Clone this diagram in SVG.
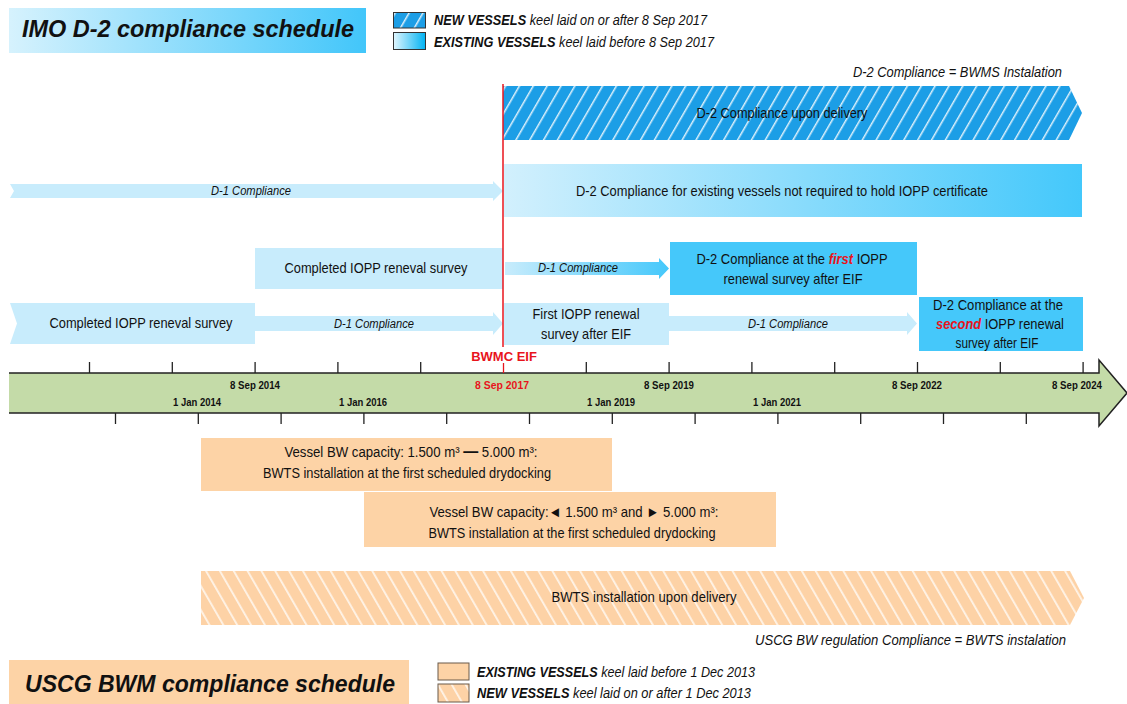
<svg xmlns="http://www.w3.org/2000/svg" width="1127" height="704" viewBox="0 0 1127 704">
<defs>
<linearGradient id="gTitle" x1="0" x2="1" y1="0" y2="0"><stop offset="0" stop-color="#d6f2fd"/><stop offset="1" stop-color="#42c6fa"/></linearGradient>
<linearGradient id="gBar" x1="0" x2="1" y1="0" y2="0"><stop offset="0" stop-color="#d2f0fd"/><stop offset="1" stop-color="#44c8fb"/></linearGradient>
<linearGradient id="gArrow" x1="0" x2="1" y1="0" y2="0"><stop offset="0" stop-color="#c8ecfc"/><stop offset="1" stop-color="#45c8fb"/></linearGradient>
<linearGradient id="gLeg" x1="0" x2="1" y1="0" y2="0"><stop offset="0" stop-color="#e0f6fe"/><stop offset="1" stop-color="#00b2f2"/></linearGradient>
<pattern id="hBlue" patternUnits="userSpaceOnUse" width="12" height="12" patternTransform="rotate(30)"><rect width="12" height="12" fill="#1c9ee6"/><rect x="0" y="0" width="1.5" height="12" fill="#ffffff" fill-opacity="0.85"/></pattern>
<pattern id="hOrange" patternUnits="userSpaceOnUse" width="12" height="12" patternTransform="rotate(-30)"><rect width="12" height="12" fill="#fdd2a6"/><rect x="0" y="0" width="1.8" height="12" fill="#ffffff" fill-opacity="0.75"/></pattern>
<style>
.t{font-family:"Liberation Sans Narrow","Arial Narrow","Liberation Sans",Arial,sans-serif;fill:#111;}
.s{font-family:"Liberation Sans",Arial,sans-serif;fill:#111;font-size:15px;}
.b14{font-size:15px;}
.i12{font-size:12.5px;font-style:italic;}
.i13{font-size:14px;font-style:italic;}
.tl{font-size:11px;font-weight:bold;}
.ttl{font-family:"Liberation Sans",Arial,sans-serif;font-weight:bold;font-style:italic;font-size:23.5px;fill:#111;}
.light{fill:#c8ecfc;}
.cyan{fill:#45c8fa;}
.peach{fill:#fdd3a6;}
.red{fill:#e8141c;font-weight:bold;font-style:italic;}
.tick{stroke:#222;stroke-width:1.3;}
</style>
</defs>

<g id="imo-title">
<rect x="9" y="8" width="357" height="45" fill="url(#gTitle)"/>
<text class="ttl" x="188" y="37" text-anchor="middle" textLength="332" lengthAdjust="spacingAndGlyphs">IMO D-2 compliance schedule</text>
</g>

<g id="imo-legend">
<rect x="393.5" y="12.5" width="32" height="15.5" fill="url(#hBlue)" stroke="#333" stroke-width="1"/>
<rect x="393.5" y="32.5" width="32" height="17" fill="url(#gLeg)" stroke="#333" stroke-width="1"/>
<text class="t i13" x="434" y="25" textLength="273" lengthAdjust="spacingAndGlyphs"><tspan font-weight="bold">NEW VESSELS</tspan> keel laid on or after 8 Sep 2017</text>
<text class="t i13" x="434" y="47" textLength="280" lengthAdjust="spacingAndGlyphs"><tspan font-weight="bold">EXISTING VESSELS</tspan> keel laid before 8 Sep 2017</text>
</g>

<g id="d2-note">
<text class="t i13" x="1062" y="77" text-anchor="end" textLength="209" lengthAdjust="spacingAndGlyphs">D-2 Compliance = BWMS Instalation</text>
</g>

<g id="new-vessels">
<polygon points="503,86 1069,86 1082,113 1069,140 503,140" fill="url(#hBlue)"/>
<text class="t b14" x="782" y="118" text-anchor="middle" textLength="171" lengthAdjust="spacingAndGlyphs">D-2 Compliance upon delivery</text>
</g>

<g id="existing-no-iopp">
<rect x="504" y="164" width="578" height="53" fill="url(#gBar)"/>
<text class="t b14" x="782" y="196" text-anchor="middle" textLength="412" lengthAdjust="spacingAndGlyphs">D-2 Compliance for  existing vessels not required to hold IOPP certificate</text>
</g>

<g id="row3-completed">
<rect class="light" x="255" y="248" width="248" height="41"/>
<text class="t b14" x="376" y="273" text-anchor="middle" textLength="183" lengthAdjust="spacingAndGlyphs">Completed IOPP reneval survey</text>
</g>

<g id="row3-first">
<rect class="cyan" x="670" y="242" width="247" height="53"/>
<text class="s" transform="translate(792,264) scale(0.862,1)" text-anchor="middle">D-2 Compliance at the <tspan class="red">first</tspan> IOPP</text>
<text class="t b14" x="793" y="284" text-anchor="middle" textLength="139" lengthAdjust="spacingAndGlyphs">renewal survey after EIF</text>
</g>

<g id="row4-completed">
<polygon class="light" points="10,303 255,303 255,344 10,344 17,323.5"/>
<text class="t b14" x="141" y="328" text-anchor="middle" textLength="183" lengthAdjust="spacingAndGlyphs">Completed IOPP reneval survey</text>
</g>

<g id="row4-first-survey">
<rect class="light" x="504" y="303" width="165" height="42"/>
<text class="t b14" x="586" y="319" text-anchor="middle" textLength="107" lengthAdjust="spacingAndGlyphs">First IOPP renewal</text>
<text class="t b14" x="586" y="339" text-anchor="middle" textLength="90" lengthAdjust="spacingAndGlyphs">survey after EIF</text>
</g>

<g id="row4-second">
<rect class="cyan" x="919" y="297" width="164" height="54"/>
<text class="t b14" x="998" y="310" text-anchor="middle" textLength="130" lengthAdjust="spacingAndGlyphs">D-2 Compliance at the</text>
<text class="s" transform="translate(1000,329) scale(0.86,1)" text-anchor="middle"><tspan class="red">second</tspan> IOPP renewal</text>
<text class="t b14" x="997" y="348" text-anchor="middle" textLength="83" lengthAdjust="spacingAndGlyphs">survey after EIF</text>
</g>

<g id="connectors">
<polygon class="light" points="10,184 493,184 493,181 503,191 493,201 493,198 10,198 14,191"/>
<text class="t i12" x="251" y="195" text-anchor="middle" textLength="80" lengthAdjust="spacingAndGlyphs">D-1 Compliance</text>
<polygon fill="url(#gArrow)" points="505,262 659,262 659,258 669,268.5 659,279 659,275 505,275"/>
<text class="t i12" x="578" y="272" text-anchor="middle" textLength="80" lengthAdjust="spacingAndGlyphs">D-1 Compliance</text>
<polygon class="light" points="255,316 493,316 493,312 503,323.5 493,335 493,331 255,331"/>
<text class="t i12" x="374" y="328" text-anchor="middle" textLength="80" lengthAdjust="spacingAndGlyphs">D-1 Compliance</text>
<polygon class="light" points="669,316 907,316 907,312 917,323.5 907,335 907,331 669,331"/>
<text class="t i12" x="788" y="328" text-anchor="middle" textLength="80" lengthAdjust="spacingAndGlyphs">D-1 Compliance</text>
</g>

<g id="bwmc-eif">
<line x1="503" y1="84" x2="503" y2="347" stroke="#e8141c" stroke-width="1.5"/>
<text x="504" y="361" text-anchor="middle" font-family="Liberation Sans,Arial,sans-serif" font-weight="bold" font-size="13" fill="#e8141c">BWMC EIF</text>
</g>

<g id="timeline">
<polygon points="9,373 1099,373 1099,360 1127,393 1099,426 1099,413 9,413" fill="#c4dba8"/>
<polyline points="9,373 1099,373 1099,360 1127,393 1099,426 1099,413 9,413" fill="none" stroke="#222" stroke-width="1.5"/>
<g class="tick">
<line x1="89.5" y1="362" x2="89.5" y2="373"/><line x1="172.3" y1="362" x2="172.3" y2="373"/><line x1="255.1" y1="362" x2="255.1" y2="373"/><line x1="337.9" y1="362" x2="337.9" y2="373"/><line x1="420.7" y1="362" x2="420.7" y2="373"/><line x1="586.3" y1="362" x2="586.3" y2="373"/><line x1="669.1" y1="362" x2="669.1" y2="373"/><line x1="751.9" y1="362" x2="751.9" y2="373"/><line x1="834.7" y1="362" x2="834.7" y2="373"/><line x1="917.5" y1="362" x2="917.5" y2="373"/><line x1="1000.3" y1="362" x2="1000.3" y2="373"/><line x1="1083.1" y1="362" x2="1083.1" y2="373"/>
<line x1="115.5" y1="413" x2="115.5" y2="424"/><line x1="198.3" y1="413" x2="198.3" y2="424"/><line x1="281.1" y1="413" x2="281.1" y2="424"/><line x1="363.9" y1="413" x2="363.9" y2="424"/><line x1="446.7" y1="413" x2="446.7" y2="424"/><line x1="529.5" y1="413" x2="529.5" y2="424"/><line x1="612.3" y1="413" x2="612.3" y2="424"/><line x1="695.1" y1="413" x2="695.1" y2="424"/><line x1="777.9" y1="413" x2="777.9" y2="424"/><line x1="860.7" y1="413" x2="860.7" y2="424"/><line x1="943.5" y1="413" x2="943.5" y2="424"/><line x1="1026.3" y1="413" x2="1026.3" y2="424"/>
</g>
<line x1="503.5" y1="363" x2="503.5" y2="373" stroke="#e8141c" stroke-width="1.3"/>
<text class="t tl" x="255" y="389" text-anchor="middle" textLength="50" lengthAdjust="spacingAndGlyphs">8 Sep 2014</text>
<text class="t tl" x="502" y="389" text-anchor="middle" textLength="54" lengthAdjust="spacingAndGlyphs" style="fill:#e8141c">8 Sep 2017</text>
<text class="t tl" x="669" y="389" text-anchor="middle" textLength="50" lengthAdjust="spacingAndGlyphs">8 Sep 2019</text>
<text class="t tl" x="917" y="389" text-anchor="middle" textLength="50" lengthAdjust="spacingAndGlyphs">8 Sep 2022</text>
<text class="t tl" x="1077" y="389" text-anchor="middle" textLength="50" lengthAdjust="spacingAndGlyphs">8 Sep 2024</text>
<text class="t tl" x="197" y="406" text-anchor="middle" textLength="48" lengthAdjust="spacingAndGlyphs">1 Jan 2014</text>
<text class="t tl" x="363" y="406" text-anchor="middle" textLength="48" lengthAdjust="spacingAndGlyphs">1 Jan 2016</text>
<text class="t tl" x="611" y="406" text-anchor="middle" textLength="48" lengthAdjust="spacingAndGlyphs">1 Jan 2019</text>
<text class="t tl" x="777" y="406" text-anchor="middle" textLength="48" lengthAdjust="spacingAndGlyphs">1 Jan 2021</text>
</g>

<g id="uscg-mid">
<rect class="peach" x="201" y="438" width="411" height="53"/>
<text class="s" transform="translate(411,457) scale(0.88,1)" text-anchor="middle">Vessel BW capacity: 1.500 m³ <tspan font-weight="bold" font-size="17">—</tspan> 5.000 m³:</text>
<text class="t b14" x="407" y="478" text-anchor="middle" textLength="288" lengthAdjust="spacingAndGlyphs">BWTS installation at the first scheduled drydocking</text>
</g>

<g id="uscg-other">
<rect class="peach" x="364" y="492" width="412" height="55"/>
<text class="t b14" x="574" y="517" text-anchor="middle" textLength="289" lengthAdjust="spacingAndGlyphs">Vessel BW capacity:◄ 1.500 m³ and  ► 5.000 m³:</text>
<text class="t b14" x="572" y="538" text-anchor="middle" textLength="287" lengthAdjust="spacingAndGlyphs">BWTS installation at the first scheduled drydocking</text>
</g>

<g id="uscg-new">
<polygon points="201,571 1070,571 1084,598 1070,625 201,625" fill="url(#hOrange)"/>
<text class="t b14" x="644" y="602" text-anchor="middle" textLength="185" lengthAdjust="spacingAndGlyphs">BWTS installation  upon delivery</text>
<text class="t i13" x="1066" y="645" text-anchor="end" textLength="311" lengthAdjust="spacingAndGlyphs">USCG BW  regulation Compliance = BWTS instalation</text>
</g>

<g id="uscg-title">
<rect class="peach" x="9" y="660" width="400" height="44"/>
<text class="ttl" x="210" y="692" text-anchor="middle" style="font-size:24.5px" textLength="370" lengthAdjust="spacingAndGlyphs">USCG BWM compliance schedule</text>
</g>

<g id="uscg-legend">
<rect x="438" y="663" width="31" height="17" fill="#fdd3a6" stroke="#6a5a4a" stroke-width="1"/>
<rect x="438" y="684" width="31" height="18" fill="url(#hOrange)" stroke="#6a5a4a" stroke-width="1"/>
<text class="t i13" x="477" y="677" textLength="278" lengthAdjust="spacingAndGlyphs"><tspan font-weight="bold">EXISTING VESSELS</tspan> keel laid before 1 Dec 2013</text>
<text class="t i13" x="477" y="698" textLength="274" lengthAdjust="spacingAndGlyphs"><tspan font-weight="bold">NEW VESSELS</tspan> keel laid on or after 1 Dec 2013</text>
</g>
</svg>
